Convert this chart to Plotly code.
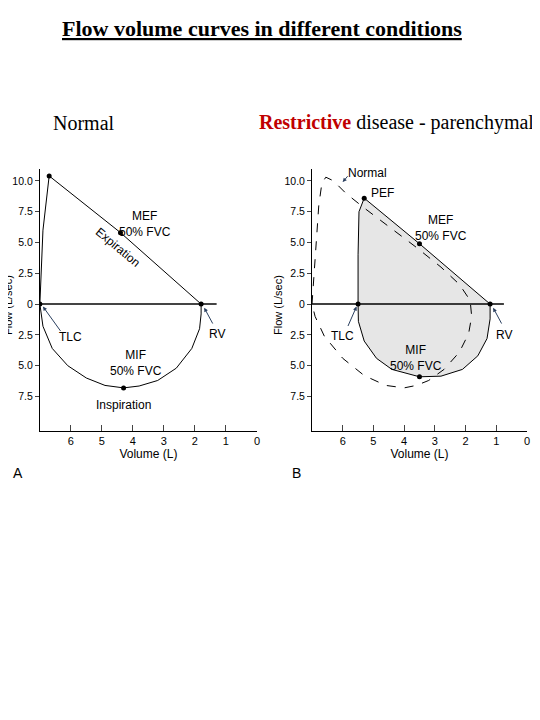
import plotly.graph_objects as go

# Panel A - normal loop
a_exp_vol = [7.0, 6.95, 6.9, 6.7, 4.4, 1.8]
a_exp_flow = [0.0, 3.0, 6.0, 10.4, 5.8, 0.0]
a_insp_vol = [7.0, 6.9, 6.6, 6.1, 5.5, 4.9, 4.3, 3.8, 3.2, 2.6, 2.1, 1.85, 1.8, 1.8]
a_insp_flow = [0.0, -1.8, -3.6, -5.0, -6.0, -6.6, -6.8, -6.65, -6.2, -5.2, -3.6, -2.0, -0.8, 0.0]

# Panel B - restrictive loop
b_exp_vol = [5.5, 5.5, 5.47, 5.3, 3.5, 1.2]
b_exp_flow = [0.0, 4.0, 7.5, 8.6, 4.9, 0.0]
b_insp_vol = [5.5, 5.49, 5.3, 4.9, 4.4, 3.5, 2.8, 2.1, 1.6, 1.3, 1.2, 1.2]
b_insp_flow = [0.0, -1.4, -3.0, -4.4, -5.3, -5.9, -5.85, -5.3, -4.2, -2.8, -1.2, 0.0]
# normal reference loop (dashed)
n_vol = [7.0, 6.88, 6.78, 6.68, 6.55, 6.3, 5.9, 5.3, 4.5, 3.6, 2.8, 2.2, 1.85, 1.8, 1.9, 2.2, 2.7, 3.2, 3.6, 4.0, 4.6, 5.3, 6.0, 6.6, 6.9, 7.0]
n_flow = [0.0, 4.0, 8.0, 9.8, 10.3, 10.0, 9.0, 7.8, 6.3, 4.6, 3.0, 1.6, 0.3, -1.0, -2.4, -3.9, -5.3, -6.2, -6.6, -6.8, -6.6, -5.8, -4.4, -2.6, -1.0, 0.0]

y_ticks = [10, 7.5, 5, 2.5, 0, -2.5, -5, -7.5]
y_text = ["10.0", "7.5", "5.0", "2.5", "0", "2.5", "5.0", "7.5"]
x_ticks = [6, 5, 4, 3, 2, 1, 0]

fig = go.Figure()
line = dict(color="black", width=1)

# A
fig.add_trace(go.Scatter(x=a_exp_vol, y=a_exp_flow, mode="lines", line=line, xaxis="x", yaxis="y"))
fig.add_trace(go.Scatter(x=a_insp_vol, y=a_insp_flow, mode="lines", line=line, xaxis="x", yaxis="y"))
fig.add_trace(go.Scatter(x=[7.0, 1.3], y=[0, 0], mode="lines", line=dict(color="#444", width=2), xaxis="x", yaxis="y"))
fig.add_trace(go.Scatter(x=[7.0, 6.7, 4.4, 1.8, 4.3], y=[0, 10.4, 5.8, 0, -6.8], mode="markers",
                         marker=dict(color="black", size=5), xaxis="x", yaxis="y"))

# B
fig.add_trace(go.Scatter(x=b_exp_vol + b_insp_vol[::-1], y=b_exp_flow + b_insp_flow[::-1], mode="lines",
                         fill="toself", fillcolor="#e6e6e6", line=line, xaxis="x2", yaxis="y2"))
fig.add_trace(go.Scatter(x=n_vol, y=n_flow, mode="lines", line=dict(color="black", width=1, dash="dash"),
                         xaxis="x2", yaxis="y2"))
fig.add_trace(go.Scatter(x=[7.0, 0.75], y=[0, 0], mode="lines", line=dict(color="black", width=1.5), xaxis="x2", yaxis="y2"))
fig.add_trace(go.Scatter(x=[5.5, 5.3, 3.5, 1.2, 3.5], y=[0, 8.6, 4.9, 0, -5.9], mode="markers",
                         marker=dict(color="black", size=5), xaxis="x2", yaxis="y2"))

axis_font = dict(family="Liberation Sans", size=11, color="black")
tick_font = dict(family="Liberation Sans", size=10.5, color="black")
xa = dict(range=[7, 0], tickvals=x_ticks, ticks="inside", ticklen=6, showline=True, linecolor="black",
          showgrid=False, zeroline=False, tickfont=axis_font, automargin=False,
          title=dict(text="Volume (L)", font=dict(axis_font, size=12), standoff=2))
ya = dict(range=[-10.3, 11], tickvals=y_ticks, ticktext=y_text, ticks="outside", ticklen=4, showline=True,
          linecolor="black", showgrid=False, zeroline=False, tickfont=tick_font, automargin=False)

fig.update_layout(
    width=540, height=720, margin=dict(l=0, r=0, t=0, b=0, autoexpand=False),
    paper_bgcolor="white", plot_bgcolor="white", showlegend=False,
    xaxis=dict(xa, domain=[0.059, 0.461], anchor="y"),
    yaxis=dict(ya, domain=[0.4125, 0.777], anchor="x"),
    xaxis2=dict(xa, domain=[0.563, 0.961], anchor="y2"),
    yaxis2=dict(ya, domain=[0.4125, 0.777], anchor="x2"),
)

lab = dict(family="Liberation Sans", size=12, color="black")
serif = dict(family="Liberation Serif", size=20, color="black")


def pt(x, y, text, font, **kw):
    # page body adds an 8px offset, so positions are given 8px up/left
    return dict(xref="paper", yref="paper", x=(x - 8) / 540, y=1 - (y - 8) / 720, text=text, font=font,
                showarrow=False, xanchor="center", yanchor="middle", **kw)


ann = [
    pt(262, 28, "<b><u>Flow volume curves in different conditions</u></b>",
       dict(family="Liberation Serif", size=22, color="black")),
    pt(84, 123, "Normal", serif),
    pt(396, 123, "<span style='color:#c00000'><b>Restrictive</b></span> disease - parenchymal", serif),
    pt(18, 473, "A", dict(family="Liberation Sans", size=14, color="black")),
    pt(296, 473, "B", dict(family="Liberation Sans", size=14, color="black")),
    pt(8, 305, "Flow (L/sec)", axis_font, textangle=-90),
    pt(278, 305, "Flow (L/sec)", axis_font, textangle=-90),
    # A labels
    dict(xref="x", yref="y", x=6.6, y=11.6, text="PEF", font=lab, showarrow=False),
    dict(xref="x", yref="y", x=3.6, y=6.5, text="MEF<br>50% FVC", font=lab, showarrow=False),
    dict(xref="x", yref="y", x=4.5, y=4.6, text="Expiration", font=lab, showarrow=False, textangle=40),
    dict(xref="x", yref="y", x=3.9, y=-4.8, text="MIF<br>50% FVC", font=lab, showarrow=False),
    dict(xref="x", yref="y", x=4.3, y=-8.2, text="Inspiration", font=lab, showarrow=False),
    dict(xref="x", yref="y", x=6.9, y=-0.2, ax=6.3, ay=-2.3, axref="x", ayref="y", text="", showarrow=True,
         arrowhead=2, arrowsize=0.8, arrowwidth=1),
    dict(xref="x", yref="y", x=6.0, y=-2.7, text="TLC", font=lab, showarrow=False),
    dict(xref="x", yref="y", x=1.7, y=-0.3, ax=1.4, ay=-1.7, axref="x", ayref="y", text="", showarrow=True,
         arrowhead=2, arrowsize=0.8, arrowwidth=1),
    dict(xref="x", yref="y", x=1.3, y=-2.4, text="RV", font=lab, showarrow=False),
    # B labels
    dict(xref="x2", yref="y2", x=6.0, y=9.9, ax=5.8, ay=10.5, axref="x2", ayref="y2", text="", showarrow=True,
         arrowhead=2, arrowsize=0.8, arrowwidth=1),
    dict(xref="x2", yref="y2", x=5.2, y=10.6, text="Normal", font=lab, showarrow=False),
    dict(xref="x2", yref="y2", x=4.7, y=9.0, text="PEF", font=lab, showarrow=False),
    dict(xref="x2", yref="y2", x=2.8, y=6.2, text="MEF<br>50% FVC", font=lab, showarrow=False),
    dict(xref="x2", yref="y2", x=3.6, y=-4.4, text="MIF<br>50% FVC", font=lab, showarrow=False),
    dict(xref="x2", yref="y2", x=5.55, y=-0.2, ax=5.85, ay=-1.9, axref="x2", ayref="y2", text="", showarrow=True,
         arrowhead=2, arrowsize=0.8, arrowwidth=1),
    dict(xref="x2", yref="y2", x=6.0, y=-2.6, text="TLC", font=lab, showarrow=False),
    dict(xref="x2", yref="y2", x=1.1, y=-0.3, ax=0.8, ay=-1.7, axref="x2", ayref="y2", text="", showarrow=True,
         arrowhead=2, arrowsize=0.8, arrowwidth=1),
    dict(xref="x2", yref="y2", x=0.75, y=-2.5, text="RV", font=lab, showarrow=False),
]
fig.update_layout(annotations=ann)

fig.write_html("out.html")
